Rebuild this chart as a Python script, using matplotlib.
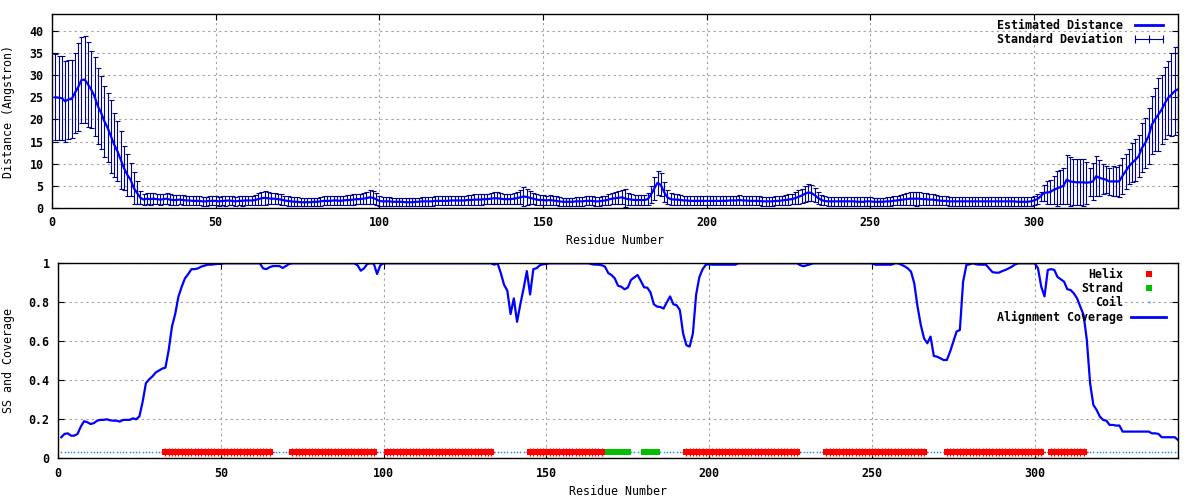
import matplotlib
matplotlib.use('Agg')
import matplotlib.pyplot as plt
from matplotlib.lines import Line2D
from matplotlib.ticker import FormatStrFormatter, MultipleLocator
import numpy as np

plt.rcParams['font.family'] = 'DejaVu Sans Mono'
plt.rcParams['font.weight'] = 'bold'
plt.rcParams['font.size'] = 8.4

# estimated distance per residue (Angstrom), residues 1..344
distance = [
    25.0, 24.9, 24.8, 24.1, 24.5, 24.6, 26.0, 27.3, 28.9, 29.0,   # 1-10
    27.9, 26.7, 25.2, 23.0, 21.5, 19.6, 18.1, 16.2, 14.3, 12.8,   # 11-20
    10.9, 9.0, 7.5, 6.4, 4.5, 3.4, 2.3, 1.9, 2.1, 2.0,            # 21-30
    2.1, 2.0, 1.9, 2.0, 2.1, 1.9, 1.8, 1.8, 1.9, 1.8,             # 31-40
    1.7, 1.7, 1.6, 1.6, 1.6, 1.5, 1.5, 1.6, 1.6, 1.6,             # 41-50
    1.5, 1.6, 1.6, 1.7, 1.6, 1.5, 1.6, 1.6, 1.7, 1.7,             # 51-60
    1.7, 1.8, 2.0, 2.2, 2.3, 2.2, 2.1, 2.1, 2.0, 1.9,             # 61-70
    1.7, 1.6, 1.5, 1.4, 1.4, 1.3, 1.3, 1.3, 1.3, 1.4,             # 71-80
    1.4, 1.5, 1.6, 1.6, 1.6, 1.7, 1.7, 1.6, 1.7, 1.8,             # 81-90
    1.8, 1.9, 2.0, 2.0, 2.1, 2.2, 2.4, 2.3, 2.0, 1.6,             # 91-100
    1.5, 1.5, 1.5, 1.4, 1.4, 1.4, 1.4, 1.3, 1.3, 1.3,             # 101-110
    1.4, 1.4, 1.5, 1.5, 1.5, 1.5, 1.6, 1.6, 1.6, 1.6,             # 111-120
    1.6, 1.7, 1.7, 1.7, 1.7, 1.7, 1.8, 1.8, 1.9, 1.9,             # 121-130
    1.9, 2.0, 2.0, 2.1, 2.2, 2.2, 2.1, 2.0, 2.0, 2.0,             # 131-140
    2.1, 2.2, 2.4, 2.6, 2.5, 2.3, 2.1, 1.9, 1.8, 1.8,             # 141-150
    1.7, 1.8, 1.7, 1.6, 1.5, 1.4, 1.4, 1.4, 1.4, 1.5,             # 151-160
    1.5, 1.5, 1.6, 1.6, 1.6, 1.5, 1.5, 1.6, 1.7, 1.9,             # 161-170
    2.1, 2.2, 2.3, 2.4, 2.2, 2.0, 1.9, 1.8, 1.8, 1.8,             # 171-180
    1.8, 2.0, 3.0, 4.4, 5.7, 5.2, 3.6, 2.4, 2.0, 1.9,             # 181-190
    1.9, 1.8, 1.7, 1.7, 1.6, 1.6, 1.6, 1.6, 1.6, 1.6,             # 191-200
    1.6, 1.6, 1.6, 1.6, 1.6, 1.6, 1.7, 1.7, 1.7, 1.8,             # 201-210
    1.7, 1.7, 1.6, 1.6, 1.6, 1.6, 1.5, 1.5, 1.5, 1.5,             # 211-220
    1.6, 1.6, 1.7, 1.8, 1.9, 2.0, 2.2, 2.5, 2.8, 3.2,             # 221-230
    3.5, 3.4, 2.9, 2.3, 1.8, 1.6, 1.5, 1.5, 1.5, 1.5,             # 231-240
    1.5, 1.5, 1.5, 1.5, 1.5, 1.4, 1.4, 1.4, 1.5, 1.5,             # 241-250
    1.4, 1.4, 1.4, 1.4, 1.5, 1.5, 1.6, 1.7, 1.8, 1.9,             # 251-260
    2.0, 2.1, 2.1, 2.1, 2.1, 2.0, 2.0, 1.9, 1.9, 1.8,             # 261-270
    1.7, 1.6, 1.6, 1.5, 1.5, 1.5, 1.5, 1.5, 1.5, 1.5,             # 271-280
    1.5, 1.5, 1.5, 1.5, 1.5, 1.5, 1.5, 1.5, 1.5, 1.5,             # 281-290
    1.5, 1.5, 1.5, 1.5, 1.4, 1.4, 1.4, 1.4, 1.5, 1.7,             # 291-300
    2.0, 2.6, 3.4, 3.5, 3.6, 4.1, 4.4, 4.7, 5.0, 6.4,             # 301-310
    6.0, 5.9, 5.8, 5.8, 5.8, 5.7, 5.8, 6.0, 7.2, 6.8,             # 311-320
    6.6, 6.4, 6.0, 6.0, 6.0, 6.0, 7.2, 8.3, 9.4, 10.2,            # 321-330
    10.9, 11.7, 13.6, 14.7, 16.2, 18.8, 20.0, 21.1, 22.2, 23.7,   # 331-340
    24.9, 25.6, 26.4, 26.8,                                       # 341-344
]

# standard deviation per residue
std_dev = [
    9.7, 9.5, 9.5, 9.2, 9.0, 8.9, 9.0, 9.9, 9.7, 9.8,     # 1-10
    9.6, 8.7, 9.0, 8.5, 8.2, 8.0, 7.8, 8.2, 7.2, 6.8,     # 11-20
    6.5, 5.0, 4.8, 3.8, 3.6, 2.6, 1.5, 1.3, 1.3, 1.3,     # 21-30
    1.3, 1.2, 1.2, 1.2, 1.3, 1.2, 1.1, 1.1, 1.1, 1.1,     # 31-40
    1.0, 1.1, 1.0, 1.0, 1.0, 1.0, 1.0, 1.0, 1.0, 1.0,     # 41-50
    1.0, 1.0, 1.1, 1.1, 1.0, 1.0, 1.0, 1.1, 1.1, 1.1,     # 51-60
    1.1, 1.2, 1.3, 1.5, 1.6, 1.4, 1.3, 1.3, 1.2, 1.2,     # 61-70
    1.1, 1.1, 1.0, 1.0, 1.0, 0.9, 0.9, 0.9, 0.9, 0.9,     # 71-80
    0.9, 1.0, 1.0, 1.0, 1.0, 1.1, 1.1, 1.0, 1.1, 1.1,     # 81-90
    1.1, 1.2, 1.2, 1.2, 1.3, 1.4, 1.6, 1.5, 1.3, 1.1,     # 91-100
    1.0, 1.0, 1.0, 0.9, 0.9, 0.9, 0.9, 0.9, 0.9, 0.9,     # 101-110
    0.9, 0.9, 1.0, 1.0, 1.0, 1.0, 1.0, 1.0, 1.0, 1.0,     # 111-120
    1.0, 1.1, 1.1, 1.1, 1.1, 1.1, 1.1, 1.1, 1.2, 1.2,     # 121-130
    1.2, 1.2, 1.2, 1.3, 1.3, 1.3, 1.3, 1.2, 1.2, 1.2,     # 131-140
    1.3, 1.4, 1.6, 2.2, 1.8, 1.5, 1.3, 1.2, 1.1, 1.2,     # 141-150
    1.1, 1.1, 1.1, 1.0, 1.0, 0.9, 0.9, 0.9, 0.9, 1.0,     # 151-160
    1.0, 1.0, 1.0, 1.0, 1.0, 1.0, 1.0, 1.0, 1.1, 1.2,     # 161-170
    1.3, 1.4, 1.5, 1.6, 2.0, 1.4, 1.3, 1.2, 1.2, 1.2,     # 171-180
    1.2, 1.4, 1.9, 2.6, 2.7, 2.6, 2.2, 1.6, 1.3, 1.2,     # 181-190
    1.2, 1.1, 1.1, 1.1, 1.0, 1.0, 1.0, 1.0, 1.0, 1.0,     # 191-200
    1.0, 1.0, 1.0, 1.0, 1.0, 1.0, 1.0, 1.0, 1.0, 1.1,     # 201-210
    1.0, 1.0, 1.0, 1.0, 1.0, 1.0, 1.0, 1.0, 1.0, 1.0,     # 211-220
    1.0, 1.0, 1.1, 1.1, 1.2, 1.2, 1.3, 1.5, 1.6, 1.8,     # 221-230
    1.9, 1.8, 1.6, 1.4, 1.1, 1.0, 1.0, 1.0, 1.0, 1.0,     # 231-240
    1.0, 1.0, 1.0, 1.0, 1.0, 1.0, 1.0, 1.0, 1.0, 1.0,     # 241-250
    0.9, 0.9, 0.9, 0.9, 1.0, 1.0, 1.0, 1.1, 1.2, 1.3,     # 251-260
    1.3, 1.4, 1.5, 1.6, 1.4, 1.3, 1.3, 1.2, 1.2, 1.1,     # 261-270
    1.1, 1.0, 1.0, 1.0, 1.0, 1.0, 1.0, 1.0, 1.0, 1.0,     # 271-280
    1.0, 1.0, 1.0, 1.0, 1.0, 1.0, 1.0, 1.0, 1.0, 1.0,     # 281-290
    1.0, 1.0, 1.0, 1.0, 1.0, 1.0, 1.0, 1.0, 1.0, 1.1,     # 291-300
    1.2, 1.1, 1.8, 2.5, 2.7, 3.2, 3.9, 3.8, 4.0, 5.6,     # 301-310
    5.6, 5.2, 5.2, 5.2, 5.3, 4.7, 3.2, 4.1, 4.5, 4.0,     # 311-320
    3.4, 3.1, 3.0, 3.4, 3.2, 3.6, 4.1, 4.0, 4.0, 4.4,     # 321-330
    4.7, 4.7, 5.5, 5.7, 6.3, 6.5, 7.2, 8.2, 7.8, 8.2,     # 331-340
    8.4, 9.3, 10.0, 9.6,                                  # 341-344
]

# alignment coverage per residue
coverage = [
    0.108, 0.125, 0.128, 0.116, 0.116, 0.125, 0.162, 0.190, 0.185, 0.176,  # 1-10
    0.180, 0.193, 0.197, 0.197, 0.200, 0.195, 0.193, 0.193, 0.188, 0.197,  # 11-20
    0.197, 0.197, 0.205, 0.200, 0.215, 0.290, 0.385, 0.405, 0.420, 0.440,  # 21-30
    0.450, 0.460, 0.465, 0.555, 0.675, 0.740, 0.830, 0.880, 0.923, 0.945,  # 31-40
    0.970, 0.970, 0.974, 0.983, 0.988, 0.993, 0.993, 0.995, 0.997, 0.997,  # 41-50
    1.000, 1.000, 1.000, 1.000, 1.000, 1.000, 1.000, 1.000, 1.000, 1.000,  # 51-60
    1.000, 1.000, 0.974, 0.970, 0.980, 0.986, 0.986, 0.986, 0.976, 0.986,  # 61-70
    0.997, 1.000, 1.000, 1.000, 1.000, 1.000, 1.000, 1.000, 1.000, 1.000,  # 71-80
    1.000, 1.000, 1.000, 1.000, 1.000, 1.000, 1.000, 1.000, 1.000, 1.000,  # 81-90
    1.000, 0.990, 0.962, 0.974, 0.997, 1.000, 0.998, 0.945, 0.990, 1.000,  # 91-100
    1.000, 1.000, 1.000, 1.000, 1.000, 1.000, 1.000, 1.000, 1.000, 1.000,  # 101-110
    1.000, 1.000, 1.000, 1.000, 1.000, 1.000, 1.000, 1.000, 1.000, 1.000,  # 111-120
    1.000, 1.000, 1.000, 1.000, 1.000, 1.000, 1.000, 1.000, 1.000, 1.000,  # 121-130
    1.000, 1.000, 1.000, 0.993, 1.000, 0.950, 0.890, 0.860, 0.740, 0.820,  # 131-140
    0.700, 0.790, 0.870, 0.960, 0.840, 0.970, 0.975, 0.990, 0.995, 0.997,  # 141-150
    1.000, 1.000, 1.000, 1.000, 1.000, 1.000, 1.000, 1.000, 1.000, 1.000,  # 151-160
    1.000, 1.000, 1.000, 0.995, 0.993, 0.993, 0.990, 0.983, 0.950, 0.940,  # 161-170
    0.923, 0.885, 0.880, 0.867, 0.875, 0.915, 0.928, 0.940, 0.910, 0.877,  # 171-180
    0.875, 0.850, 0.790, 0.778, 0.776, 0.768, 0.800, 0.830, 0.790, 0.785,  # 181-190
    0.760, 0.640, 0.580, 0.573, 0.640, 0.840, 0.930, 0.970, 0.993, 0.995,  # 191-200
    0.993, 0.993, 0.993, 0.993, 0.993, 0.993, 0.993, 0.993, 1.000, 1.000,  # 201-210
    1.000, 1.000, 1.000, 1.000, 1.000, 1.000, 1.000, 1.000, 1.000, 1.000,  # 211-220
    1.000, 1.000, 1.000, 1.000, 1.000, 1.000, 1.000, 0.990, 0.985, 0.990,  # 221-230
    0.995, 1.000, 1.000, 1.000, 1.000, 1.000, 1.000, 1.000, 1.000, 1.000,  # 231-240
    1.000, 1.000, 1.000, 1.000, 1.000, 1.000, 1.000, 1.000, 1.000, 1.000,  # 241-250
    0.993, 0.993, 0.993, 0.993, 0.993, 0.993, 1.000, 1.000, 0.993, 0.985,  # 251-260
    0.974, 0.957, 0.897, 0.778, 0.684, 0.615, 0.590, 0.624, 0.525, 0.521,  # 261-270
    0.513, 0.504, 0.504, 0.547, 0.598, 0.650, 0.658, 0.906, 0.991, 0.995,  # 271-280
    1.000, 0.995, 0.993, 0.993, 0.993, 0.974, 0.955, 0.952, 0.952, 0.960,  # 281-290
    0.966, 0.974, 0.983, 0.995, 1.000, 1.000, 1.000, 1.000, 1.000, 1.000,  # 291-300
    0.974, 0.880, 0.830, 0.966, 0.970, 0.966, 0.930, 0.918, 0.906, 0.867,  # 301-310
    0.863, 0.846, 0.820, 0.778, 0.735, 0.607, 0.385, 0.274, 0.248, 0.214,  # 311-320
    0.197, 0.193, 0.171, 0.171, 0.168, 0.168, 0.137, 0.137, 0.137, 0.137,  # 321-330
    0.137, 0.137, 0.137, 0.137, 0.137, 0.128, 0.128, 0.125, 0.108, 0.108,  # 331-340
    0.108, 0.108, 0.108, 0.094,                                            # 341-344
]

# secondary structure segments (first, last residue); everything else is coil
helix_segments = [(33, 65), (72, 97), (101, 133), (145, 167), (193, 227),
                  (236, 266), (273, 302), (305, 315)]
strand_segments = [(169, 175), (180, 184)]

residues = np.arange(1, len(distance) + 1)
cov_res = np.arange(1, len(coverage) + 1)

ss = np.full(len(coverage), 'C')
for a, b in helix_segments:
    ss[a - 1:b] = 'H'
for a, b in strand_segments:
    ss[a - 1:b] = 'E'

fig = plt.figure(figsize=(12, 5), dpi=100)
ax1 = fig.add_axes([52 / 1200, 292 / 500, 1126 / 1200, 194 / 500])
ax2 = fig.add_axes([58 / 1200, 41.7 / 500, 1120 / 1200, 195 / 500])

grid_kw = dict(color='#a0a0a0', linestyle=(0, (2, 3)), linewidth=0.8)
for ax in (ax1, ax2):
    ax.grid(True, **grid_kw)
    ax.set_axisbelow(True)
    ax.tick_params(direction='in', top=True, right=True, length=4, width=0.8, pad=6)
    for sp in ax.spines.values():
        sp.set_linewidth(1.0)
    ax.xaxis.set_major_locator(MultipleLocator(50))
    ax.set_xlim(0, 344)

# top panel
ax1.errorbar(residues, distance, yerr=std_dev, fmt='none', ecolor='#000090',
             elinewidth=0.8, capsize=1.8, capthick=0.8)
ax1.plot(residues, distance, color='#0000ff', lw=1.6)
ax1.set_ylim(0, 43.8)
ax1.yaxis.set_major_locator(MultipleLocator(5))
ax1.set_xlabel('Residue Number')
ax1.set_ylabel('Distance (Angstron)')
ax1.xaxis.set_label_coords(0.5, -0.135)
ax1.yaxis.set_label_coords(-0.033, 0.5)

h1 = Line2D([], [], color='#0000ff', lw=2)
h2 = Line2D([], [], color='#000090', lw=0.8, marker='|', markersize=6, markeredgewidth=0.8)
ax1.legend([h1, h2], ['Estimated Distance', 'Standard Deviation'], loc='upper right',
           bbox_to_anchor=(1166 / 1200, 1 - 19 / 500), bbox_transform=fig.transFigure,
           frameon=False, markerfirst=False, numpoints=3, handlelength=3.0,
           handletextpad=0.7, labelspacing=0.1, borderpad=0, borderaxespad=0)

# bottom panel
ss_y = 0.03
is_c, is_h, is_e = ss == 'C', ss == 'H', ss == 'E'
ax2.plot(cov_res[is_c], np.full(is_c.sum(), ss_y), 's', color='#1e90ff',
         markersize=1.1, markeredgewidth=0)
ax2.plot(cov_res[is_h], np.full(is_h.sum(), ss_y), 's', color='#ff0000',
         markersize=4.0, markeredgewidth=0)
ax2.plot(cov_res[is_h], np.full(is_h.sum(), ss_y), '+', color='#ff0000',
         markersize=5.4, markeredgewidth=0.9)
ax2.plot(cov_res[is_e], np.full(is_e.sum(), ss_y), 's', color='#00c000',
         markersize=5, markeredgewidth=0)
ax2.plot(cov_res, coverage, color='#0000ff', lw=1.6)
ax2.set_ylim(0, 1)
ax2.yaxis.set_major_locator(MultipleLocator(0.2))
ax2.yaxis.set_major_formatter(FormatStrFormatter('%g'))
ax2.set_xlabel('Residue Number')
ax2.set_ylabel('SS and Coverage')
ax2.xaxis.set_label_coords(0.5, -0.135)
ax2.yaxis.set_label_coords(-0.038, 0.5)

k1 = Line2D([], [], ls='none', marker='s', color='#ff0000', markersize=4, markeredgewidth=0)
k2 = Line2D([], [], ls='none', marker='s', color='#00c000', markersize=5, markeredgewidth=0)
k3 = Line2D([], [], ls='none', marker='s', color='#1e90ff', markersize=1.2, markeredgewidth=0)
k4 = Line2D([], [], color='#0000ff', lw=2)
ax2.legend([k1, k2, k3, k4], ['Helix', 'Strand', 'Coil', 'Alignment Coverage'],
           loc='upper right', bbox_to_anchor=(1166 / 1200, 1 - 268 / 500),
           bbox_transform=fig.transFigure, frameon=False, markerfirst=False,
           numpoints=1, handlelength=3.0, handletextpad=0.7, labelspacing=0.1,
           borderpad=0, borderaxespad=0)

fig.savefig('out.png', dpi=100)
